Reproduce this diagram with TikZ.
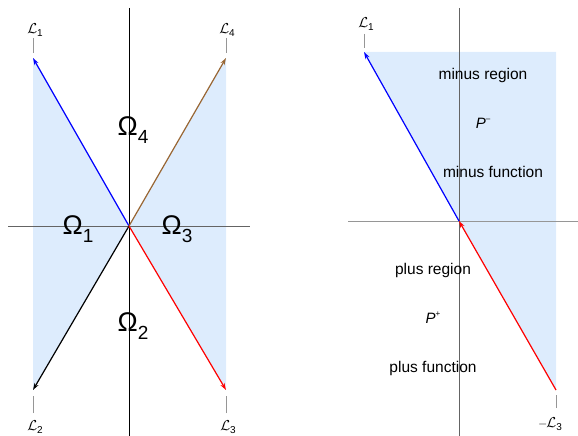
\documentclass[tikz,border=0pt]{standalone}
\usepackage{fontspec}
\setmainfont{Liberation Sans}
\usetikzlibrary{arrows.meta}
\definecolor{regionblue}{RGB}{221,236,253}
\definecolor{brownline}{RGB}{153,102,51}
\definecolor{axgray}{RGB}{100,100,100}
\definecolor{lightax}{RGB}{150,150,150}
\newcommand{\Om}[1]{{\fontsize{27}{27}\selectfont\char"03A9\raisebox{-0.3em}{\fontsize{19}{19}\selectfont #1}}}
\newcommand{\Lab}[1]{{\fontsize{15}{15}\selectfont$\mathcal{L}$\raisebox{-0.22em}{\fontsize{10}{10}\selectfont #1}}}
\tikzset{
  vec/.style={line width=1.2pt,-{Stealth[length=7pt,width=4.5pt]}},
  tick/.style={draw=lightax,line width=0.6pt},
  lab/.style={inner sep=0pt},
  om/.style={inner sep=0pt},
  txt/.style={inner sep=0pt,font=\fontsize{15.5}{16}\selectfont},
}
\begin{document}
\begin{tikzpicture}[x=1pt,y=-1pt]
\useasboundingbox (0,0) rectangle (578,436);
% ---------- left panel ----------
\coordinate (O) at (129,226);
\coordinate (A1) at (33,58);
\coordinate (A2) at (33,390);
\coordinate (A3) at (226,390);
\coordinate (A4) at (226,58);
\fill[regionblue] (A1) -- (O) -- (A2) -- cycle;
\fill[regionblue] (A4) -- (O) -- (A3) -- cycle;
\coordinate (hl) at (8,226);
\coordinate (hr) at (250,226);
\coordinate (vt) at (129,8);
\coordinate (vb) at (129,436);
\draw[axgray,line width=0.9pt] (hl) -- (hr);
\draw[black,line width=0.7pt] (vt) -- (vb);
\draw[vec,blue] (O) -- (A1);
\draw[vec,black] (O) -- (A2);
\draw[vec,red] (O) -- (A3);
\draw[vec,brownline] (O) -- (A4);
\node[lab] (L1) at (35,30) {\Lab{1}};
\node[lab] (L4) at (227,30) {\Lab{4}};
\node[lab] (L2) at (35,427) {\Lab{2}};
\node[lab] (L3) at (228,427) {\Lab{3}};
\coordinate (t1) at (33,38);
\coordinate (t4) at (226,38);
\coordinate (t2) at (33,413);
\coordinate (t3) at (226,413);
\coordinate (u1) at (33,53);
\coordinate (u4) at (226,53);
\coordinate (u2) at (33,396);
\coordinate (u3) at (226,396);
\draw[tick] (t1) -- (u1);
\draw[tick] (t4) -- (u4);
\draw[tick] (t2) -- (u2);
\draw[tick] (t3) -- (u3);
\node[om] (W4) at (133,130) {\Om{4}};
\node[om] (W1) at (78,229) {\Om{1}};
\node[om] (W3) at (177,229) {\Om{3}};
\node[om] (W2) at (133,326) {\Om{2}};
% ---------- right panel ----------
\coordinate (Q) at (459,221);
\coordinate (B1) at (364,52);
\coordinate (B3) at (556,390);
\coordinate (BC) at (556,52);
\fill[regionblue] (B1) -- (BC) -- (B3) -- (Q) -- cycle;
\coordinate (rl) at (348,221);
\coordinate (rr) at (578,221);
\coordinate (rt) at (459,8);
\coordinate (rb) at (459,436);
\draw[lightax,line width=0.9pt] (rl) -- (rr);
\draw[axgray,line width=0.7pt] (rt) -- (rb);
\draw[vec,blue] (Q) -- (B1);
\draw[vec,red] (B3) -- (Q);
\node[lab] (R1) at (366,24) {\Lab{1}};
\node[lab] (R3) at (550,424) {{\fontsize{13}{13}\selectfont$-$}\kern-1pt\Lab{3}};
\coordinate (s1) at (364,34);
\coordinate (v1) at (364,48);
\coordinate (s3) at (556,408);
\coordinate (v3) at (556,395);
\draw[tick] (s1) -- (v1);
\draw[tick] (s3) -- (v3);
\node[txt] (mr) at (483,75) {minus region};
\node[txt] (pm) at (483,123) {\fontsize{15}{15}\selectfont\itshape P\raisebox{0.45em}{\fontsize{8}{8}\selectfont\upshape –}};
\node[txt] (mf) at (493,172) {minus function};
\node[txt] (pr) at (433,270) {plus region};
\node[txt] (pp) at (433,318) {\fontsize{15}{15}\selectfont\itshape P\raisebox{0.45em}{\fontsize{8}{8}\selectfont\upshape +}};
\node[txt] (pf) at (433,368) {plus function};
\end{tikzpicture}
\end{document}
